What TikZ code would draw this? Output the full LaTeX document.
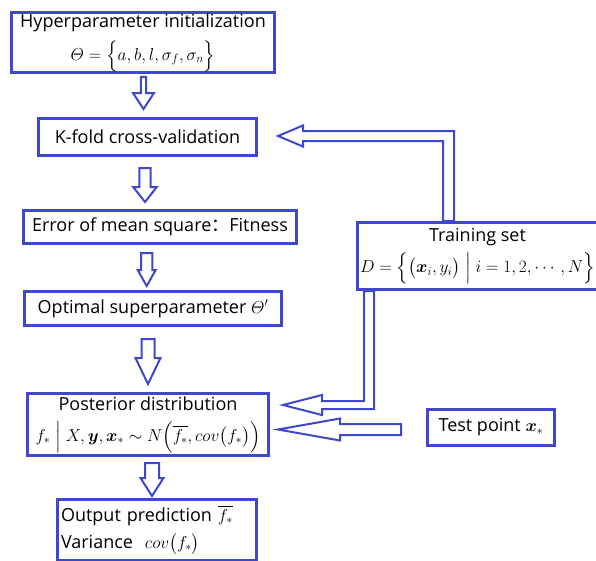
\documentclass[tikz,border=0pt]{standalone}
\usepackage{amsmath}
\usepackage{fontspec}
\setmainfont{Open Sans}
\newfontfamily\cjk{Noto Sans CJK SC}
\usetikzlibrary{calc}
\definecolor{flowblue}{HTML}{3F48CC}

% down block arrow: x, from, to, top gap, tip gap, shaft half, head half, head length
\newcommand\dnarrow[8]{%
  \draw[blockarrow] let \p1=(#1,0 |- #2.south), \p2=(#1,0 |- #3.north) in
    (\x1-#6pt,\y1-#4pt) -- (\x1-#6pt,\y2+#5pt+#8pt) -- (\x1-#7pt,\y2+#5pt+#8pt)
    -- (\x1,\y2+#5pt) -- (\x1+#7pt,\y2+#5pt+#8pt) -- (\x1+#6pt,\y2+#5pt+#8pt)
    -- (\x1+#6pt,\y1-#4pt) -- cycle;}

\tikzset{
  flowbox/.style={draw=flowblue, line width=3pt, inner sep=1pt,
    font=\fontsize{18}{27}\selectfont},
  blockarrow/.style={draw=flowblue, line width=2pt, line join=miter},
}

\begin{document}
\begin{tikzpicture}[x=1pt, y=-1pt]
  \useasboundingbox (0,0) rectangle (596,560);

  % boxes
  \node[flowbox, minimum width=263, minimum height=58, align=center] (init) at (143,42.5)
    {Hyperparameter initialization\\[6pt] $\varTheta=\Bigl\{a,b,l,\sigma_f,\sigma_n\Bigr\}$};
  \node[flowbox, minimum width=218, minimum height=37] (kfold) at (147.5,137)
    {K-fold cross-validation};
  \node[flowbox, minimum width=273, minimum height=33] (error) at (160,227)
    {Error of mean square{\cjk ：}Fitness};
  \node[flowbox, minimum width=257, minimum height=34] (optimal) at (153,308.5)
    {Optimal superparameter $\varTheta'$};
  \node[flowbox, minimum width=240, minimum height=67, align=center] (training) at (477.5,256)
    {Training set\\[4pt] $D=\Bigl\{\bigl(\boldsymbol{x}_i,y_i\bigr)\Bigm|i=1,2,\cdots,N\Bigr\}$};
  \node[flowbox, minimum width=241, minimum height=62, align=center] (posterior) at (148,424.5)
    {Posterior distribution\\[4pt] $f_*\Bigm|X,\boldsymbol{y},\boldsymbol{x}_*\sim N\Bigl(\overline{f_*},cov\bigl(f_*\bigr)\Bigr)$};
  \node[flowbox, minimum width=199, minimum height=61, text width=192, align=left] (output) at (157,530)
    {Output prediction $\overline{f_*}$\\ Variance\ \ $cov\bigl(f_*\bigr)$};
  \node[flowbox, minimum width=127, minimum height=36] (test) at (491,427.5)
    {Test point $\boldsymbol{x}_*$};

  % block arrows down the main column
  \dnarrow{143.5}{init}{kfold}{3}{8}{2.7}{10.5}{16}
  \dnarrow{145}{kfold}{error}{11}{7}{5.7}{11.8}{15}
  \dnarrow{146.7}{error}{optimal}{8}{4}{5.7}{9}{16}
  \dnarrow{148}{optimal}{posterior}{12}{8}{6.5}{12.5}{26}
  \dnarrow{152}{posterior}{output}{6}{2}{7}{11.5}{18}

  % training set -> k-fold
  \draw[blockarrow] let \p1=(448.5,0 |- training.north), \p2=(kfold.east |- 0,136) in
    (\x1-5.5pt,\y1) -- (\x1-5.5pt,\y2-5pt) -- (\x2+45pt,\y2-5pt) -- (\x2+45pt,\y2-10.5pt)
    -- (\x2+20pt,\y2) -- (\x2+45pt,\y2+10.5pt) -- (\x2+45pt,\y2+5pt)
    -- (\x1+5.5pt,\y2+5pt) -- (\x1+5.5pt,\y1) -- cycle;
  % training set -> posterior
  \draw[blockarrow] let \p1=(369,0 |- training.south), \p2=(posterior.east |- 0,405) in
    (\x1-5pt,\y1) -- (\x1-5pt,\y2+4pt) -- (\x2+52pt,\y2+4pt) -- (\x2+52pt,\y2+10pt)
    -- (\x2+13pt,\y2) -- (\x2+52pt,\y2-10pt) -- (\x2+52pt,\y2-4pt)
    -- (\x1+5pt,\y2-4pt) -- (\x1+5pt,\y1) -- cycle;
  % test point -> posterior
  \draw[blockarrow] let \p1=(test.west |- 0,429.5), \p2=(posterior.east |- 0,429.5) in
    (\x1-25pt,\y1+5.5pt) -- (\x2+70pt,\y1+5.5pt) -- (\x2+70pt,\y1+11pt) -- (\x2+8pt,\y1)
    -- (\x2+70pt,\y1-11pt) -- (\x2+70pt,\y1-5.5pt) -- (\x1-25pt,\y1-5.5pt) -- cycle;
\end{tikzpicture}
\end{document}
